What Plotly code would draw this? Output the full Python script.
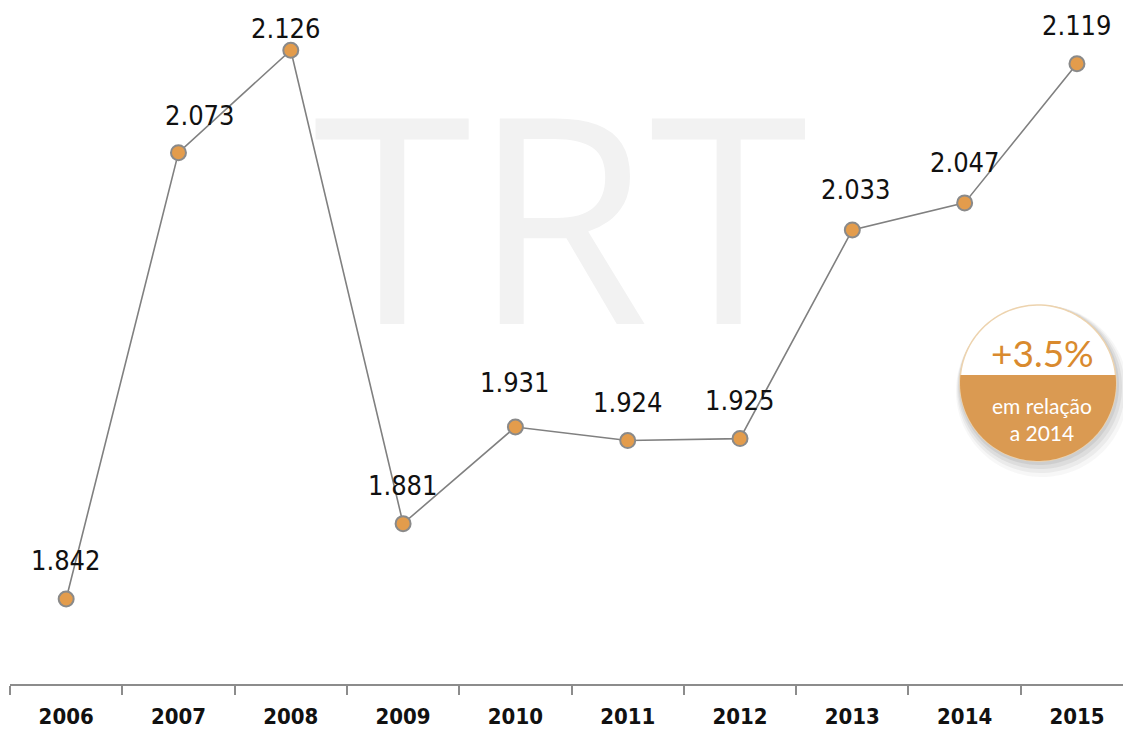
import numpy as np
import plotly.graph_objects as go

years = ["2006", "2007", "2008", "2009", "2010", "2011", "2012", "2013", "2014", "2015"]
values = [1.842, 2.073, 2.126, 1.881, 1.931, 1.924, 1.925, 2.033, 2.047, 2.119]
labels = ["1.842", "2.073", "2.126", "1.881", "1.931", "1.924", "1.925", "2.033", "2.047", "2.119"]

W, H = 1123, 734
L, R, T, B = 10, 0, 0, 50
NARROW = "DejaVu Sans Condensed, Liberation Sans, sans-serif"

fig = go.Figure()
fig.add_trace(go.Scatter(
    x=years, y=values, mode="lines+markers",
    line=dict(color="#808080", width=1.6),
    marker=dict(size=15, color="#E39C4C", line=dict(color="#8A8A8A", width=2)),
    hoverinfo="skip", showlegend=False,
))

# data labels, a few nudged like the original
shifts = {1: (22, 37), 2: (-5, 22), 4: (0, 45), 7: (4, 40), 8: (0, 40)}
for i, (v, lab) in enumerate(zip(values, labels)):
    dx, dy = shifts.get(i, (0, 38))
    fig.add_annotation(x=i, y=v, text=lab, showarrow=False, xshift=dx, yshift=dy,
                       xanchor="center", yanchor="middle",
                       font=dict(family=NARROW, size=27, color="#111111"))


def px2paper(px, py):
    return (px - L) / (W - L - R), (H - B - py) / (H - T - B)


# watermark
wx, wy = px2paper(560, 212)
fig.add_annotation(x=wx, y=wy, xref="paper", yref="paper", text="TRT", showarrow=False,
                   xanchor="center", yanchor="middle",
                   font=dict(family="Open Sans", size=288, color="#F2F2F2"))


def poly(points):
    pts = [px2paper(px, py) for px, py in points]
    return "M " + " L ".join(f"{a:.5f},{b:.5f}" for a, b in pts) + " Z"


# badge
cx, cy, rad = 1038, 383, 78
th = np.linspace(0, 2 * np.pi, 120)
for off, op in [(8, 0.05), (6, 0.07), (4, 0.09), (2, 0.11)]:
    ring = [(cx + off * 0.5 + (rad + off) * np.cos(t), cy + off + (rad + off) * np.sin(t)) for t in th]
    fig.add_shape(type="path", path=poly(ring), xref="paper", yref="paper",
                  fillcolor=f"rgba(90,90,90,{op})", line=dict(width=0), layer="above")
full = [(cx + rad * np.cos(t), cy + rad * np.sin(t)) for t in th]
fig.add_shape(type="path", path=poly(full), xref="paper", yref="paper",
              fillcolor="#FFFFFF", line=dict(color="#EDD3AE", width=1.5), layer="above")
chord = 375
a0 = np.arcsin((chord - cy) / rad)
ts = np.linspace(a0, np.pi - a0, 80)
seg = [(cx + rad * np.cos(t), cy + rad * np.sin(t)) for t in ts]
fig.add_shape(type="path", path=poly(seg), xref="paper", yref="paper",
              fillcolor="#DA9A52", line=dict(width=0), layer="above")

bx, by = px2paper(cx + 4, 352)
fig.add_annotation(x=bx, y=by, xref="paper", yref="paper", text="+3.5%", showarrow=False,
                   xanchor="center", yanchor="middle",
                   font=dict(family="Lato", size=37, color="#D98A2E"))
bx, by = px2paper(cx + 4, 419)
fig.add_annotation(x=bx, y=by, xref="paper", yref="paper", text="em relação<br>a 2014",
                   showarrow=False, align="center", xanchor="center", yanchor="middle",
                   font=dict(family="Lato", size=21, color="#FFFFFF"))

fig.update_layout(
    width=W, height=H,
    margin=dict(l=L, r=R, t=T, b=B, autoexpand=False),
    plot_bgcolor="white", paper_bgcolor="white",
    xaxis=dict(type="category", range=[-0.5, 9.41], tickson="boundaries",
               showline=True, linecolor="#8C8C8C", linewidth=2, showgrid=False, zeroline=False,
               ticks="outside", ticklen=9, tickwidth=2, tickcolor="#8C8C8C",
               ticklabelstandoff=12,
               tickfont=dict(family=NARROW, size=22, color="#111111", weight="bold")),
    yaxis=dict(range=[1.798, 2.152], visible=False),
)

fig.write_html("out.html", config={"displayModeBar": False},
               post_script="document.body.style.margin='0';")
